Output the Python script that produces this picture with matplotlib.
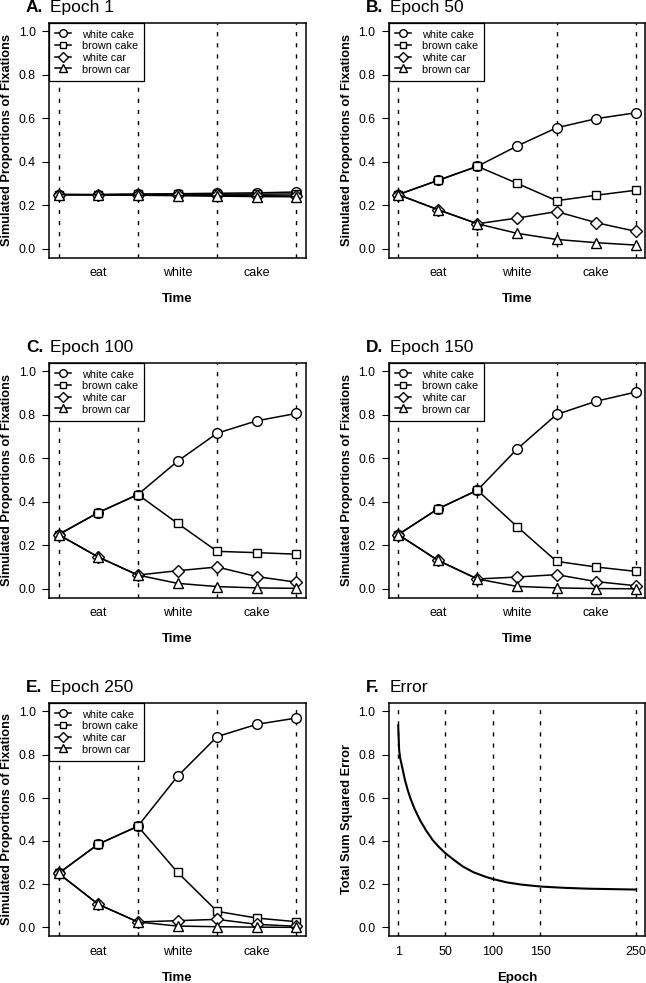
import matplotlib
matplotlib.use('Agg')
import matplotlib.pyplot as plt
import matplotlib.transforms as mtransforms
import numpy as np

plt.rcParams['font.family'] = ['Liberation Sans', 'DejaVu Sans']
plt.rcParams['lines.scale_dashes'] = False

# ---------------- data ----------------
time_points = [1, 2, 3, 4, 5, 6, 7]
word_labels = ['eat', 'white', 'cake']
word_label_pos = [2, 4, 6]
word_boundaries = [1, 3, 5, 7]
series_names = ['white cake', 'brown cake', 'white car', 'brown car']

# Epoch 1
e1_white_cake = [0.25, 0.25, 0.252, 0.254, 0.256, 0.258, 0.262]
e1_brown_cake = [0.25, 0.25, 0.252, 0.252, 0.252, 0.252, 0.253]
e1_white_car = [0.25, 0.249, 0.248, 0.247, 0.246, 0.245, 0.244]
e1_brown_car = [0.25, 0.249, 0.247, 0.245, 0.243, 0.241, 0.240]

# Epoch 50
e50_white_cake = [0.25, 0.315, 0.38, 0.473, 0.557, 0.599, 0.626]
e50_brown_cake = [0.25, 0.315, 0.38, 0.302, 0.222, 0.247, 0.270]
e50_white_car = [0.25, 0.181, 0.116, 0.142, 0.172, 0.121, 0.081]
e50_brown_car = [0.25, 0.181, 0.116, 0.072, 0.044, 0.029, 0.018]

# Epoch 100
e100_white_cake = [0.25, 0.351, 0.434, 0.587, 0.716, 0.773, 0.807]
e100_brown_cake = [0.25, 0.351, 0.434, 0.302, 0.173, 0.167, 0.160]
e100_white_car = [0.25, 0.147, 0.064, 0.084, 0.101, 0.057, 0.031]
e100_brown_car = [0.25, 0.147, 0.064, 0.026, 0.011, 0.005, 0.003]

# Epoch 150
e150_white_cake = [0.25, 0.368, 0.454, 0.643, 0.802, 0.863, 0.905]
e150_brown_cake = [0.25, 0.368, 0.454, 0.287, 0.127, 0.101, 0.081]
e150_white_car = [0.25, 0.132, 0.046, 0.055, 0.066, 0.034, 0.015]
e150_brown_car = [0.25, 0.132, 0.046, 0.012, 0.005, 0.002, 0.001]

# Epoch 250
e250_white_cake = [0.25, 0.385, 0.468, 0.699, 0.883, 0.940, 0.969]
e250_brown_cake = [0.25, 0.385, 0.468, 0.255, 0.074, 0.043, 0.026]
e250_white_car = [0.25, 0.107, 0.025, 0.031, 0.037, 0.014, 0.005]
e250_brown_car = [0.25, 0.107, 0.025, 0.006, 0.003, 0.001, 0.0]

# Error curve
error_epochs = [1, 2, 3, 4, 6, 8, 11, 14, 18, 24, 30, 37, 43, 50, 60, 69, 80, 92, 100,
                115, 130, 150, 175, 200, 225, 250]
error_values = [0.935, 0.82, 0.785, 0.765, 0.725, 0.683, 0.635, 0.595, 0.55, 0.495, 0.45,
                0.405, 0.375, 0.345, 0.31, 0.281, 0.255, 0.235, 0.224, 0.208, 0.198, 0.189,
                0.183, 0.179, 0.177, 0.175]
error_ticks = [1, 50, 100, 150, 250]

panels = [
    ('A.', 'Epoch 1', [e1_white_cake, e1_brown_cake, e1_white_car, e1_brown_car]),
    ('B.', 'Epoch 50', [e50_white_cake, e50_brown_cake, e50_white_car, e50_brown_car]),
    ('C.', 'Epoch 100', [e100_white_cake, e100_brown_cake, e100_white_car, e100_brown_car]),
    ('D.', 'Epoch 150', [e150_white_cake, e150_brown_cake, e150_white_car, e150_brown_car]),
    ('E.', 'Epoch 250', [e250_white_cake, e250_brown_cake, e250_white_car, e250_brown_car]),
]

# ---------------- layout ----------------
W, H = 646, 983
fig = plt.figure(figsize=(W / 100, H / 100), dpi=100)

col_lr = [(49, 306), (388.7, 645.3)]
row_tb = [(22.7, 257.7), (362.7, 597.7), (702.7, 936)]


def add_axes_px(left, right, top, bottom):
    return fig.add_axes([left / W, 1 - bottom / H, (right - left) / W, (bottom - top) / H])


markers = ['o', 's', 'D', '^']
msizes = [7, 6.3, 6.0, 7.5]
dash = (0, (3.0, 5.0))


def style_axes(ax, ylabel, xlabel):
    for s in ax.spines.values():
        s.set_linewidth(1.1)
    ax.set_ylim(-0.04, 1.04)
    yt = np.arange(0, 1.01, 0.2)
    ax.set_yticks(yt)
    ax.set_yticklabels(['%.1f' % v for v in yt])
    ax.tick_params(axis='y', length=5, width=0.8, pad=4.5, labelsize=8.8, direction='out')
    ax.tick_params(axis='x', length=0, pad=7, labelsize=9)
    ax.set_ylabel(ylabel, fontsize=9.2, fontweight='bold', labelpad=4.2)
    ax.set_xlabel(xlabel, fontsize=9.5, fontweight='bold', labelpad=10)


def add_title(ax, letter, text):
    trans = ax.transAxes + mtransforms.ScaledTranslation(-23 / 100, 10.7 / 100, fig.dpi_scale_trans)
    ax.text(0, 1, letter, transform=trans, fontsize=12.5, fontweight='bold',
            ha='left', va='baseline')
    trans2 = ax.transAxes + mtransforms.ScaledTranslation(1 / 100, 10.7 / 100, fig.dpi_scale_trans)
    ax.text(0, 1, text, transform=trans2, fontsize=12.5, ha='left', va='baseline')


for i, (letter, text, series) in enumerate(panels):
    r, c = divmod(i, 2)
    ax = add_axes_px(col_lr[c][0], col_lr[c][1], row_tb[r][0], row_tb[r][1])
    for b in word_boundaries:
        ax.axvline(b, color='black', lw=1.0, linestyle=dash, zorder=1)
    for name, vals, m, ms in zip(series_names, series, markers, msizes):
        ax.plot(time_points, vals, color='black', lw=1.1, marker=m, ms=ms,
                mfc='white', mec='black', mew=1.0, label=name, zorder=3)
    ax.set_xlim(1 - 0.24, 7 + 0.24)
    ax.set_xticks(word_label_pos)
    ax.set_xticklabels(word_labels)
    style_axes(ax, 'Simulated Proportions of Fixations', 'Time')
    add_title(ax, letter, text)
    leg = ax.legend(loc='upper left', borderaxespad=0, frameon=True, fancybox=False,
                    edgecolor='black', framealpha=1, fontsize=7.8, handlelength=1.5,
                    handleheight=1.165, handletextpad=1.0, borderpad=0.55,
                    labelspacing=0.06, markerscale=0.78)
    leg.get_frame().set_linewidth(0.9)
    leg.set_zorder(5)

# Panel F
ax = add_axes_px(col_lr[1][0], col_lr[1][1], row_tb[2][0], row_tb[2][1])
for b in error_ticks:
    ax.axvline(b, color='black', lw=1.0, linestyle=dash, zorder=1)
ax.plot(error_epochs, error_values, color='black', lw=1.5, zorder=3)
span = 249
ax.set_xlim(1 - 0.04 * span, 250 + 0.04 * span)
ax.set_xticks(error_ticks)
ax.set_xticklabels([str(t) for t in error_ticks])
style_axes(ax, 'Total Sum Squared Error', 'Epoch')
add_title(ax, 'F.', 'Error')

fig.savefig('out.png', dpi=100)
